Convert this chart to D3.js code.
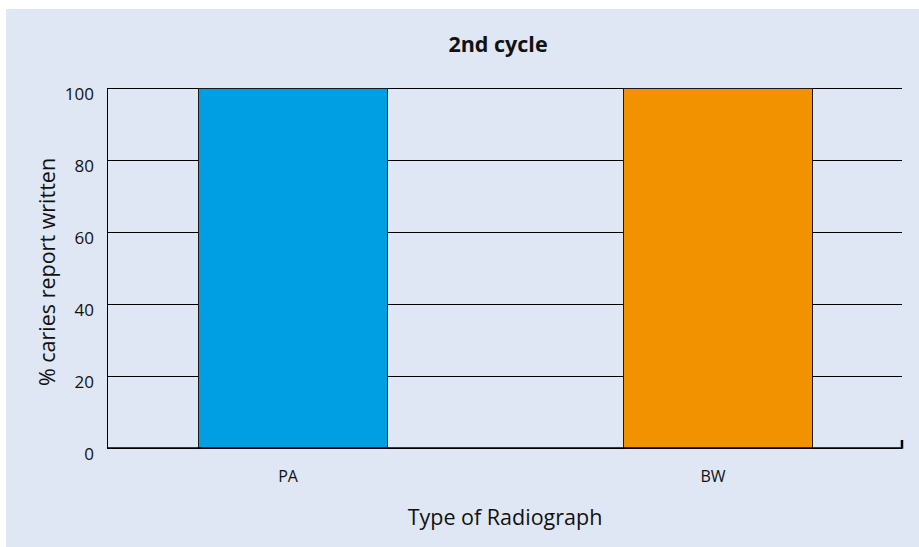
<!DOCTYPE html>
<html><head><meta charset="utf-8">
<script src="https://cdn.jsdelivr.net/npm/d3@7"></script>
<style>body{margin:0;background:#fff;} text{font-family:"Open Sans",sans-serif;fill:#111;}</style>
</head><body>
<svg id="c" width="919" height="547"></svg>
<script>
const categories = ["PA", "BW"];
const values = [100, 100];
const colors = ["#009fe3", "#f39200"];
const yTicks = [0, 20, 40, 60, 80, 100];
const title = "2nd cycle";
const xTitle = "Type of Radiograph";
const yTitle = "% caries report written";

const svg = d3.select("#c");
svg.append("rect").attr("x", 6).attr("y", 9).attr("width", 913).attr("height", 538).attr("fill", "#dfe7f5");

const plotL = 107, plotR = 902, plotT = 88, plotB = 448;
const y = d3.scaleLinear().domain([0, 100]).range([plotB, plotT]);
const x = d3.scaleBand().domain(categories).range([80.5, 930.5]).paddingInner(0.553).paddingOuter(0.2765);

// gridlines
svg.append("g").selectAll("line").data(yTicks).join("line")
  .attr("x1", plotL).attr("x2", plotR)
  .attr("y1", d => y(d)).attr("y2", d => y(d))
  .attr("stroke", "#000").attr("stroke-width", 1).attr("shape-rendering", "crispEdges");

// bars
svg.append("g").selectAll("rect").data(categories).join("rect")
  .attr("x", d => x(d)).attr("width", x.bandwidth())
  .attr("y", (d, i) => y(values[i])).attr("height", (d, i) => plotB - y(values[i]))
  .attr("fill", (d, i) => colors[i]).attr("stroke", "#1a1a1a").attr("stroke-width", 1)
  .attr("shape-rendering", "crispEdges");

// y axis
const yAxis = d3.axisLeft(y).tickValues(yTicks).tickSize(0).tickPadding(13);
const gy = svg.append("g").attr("transform", `translate(${plotL},0)`).call(yAxis);
gy.select(".domain").attr("stroke", "#000").attr("shape-rendering", "crispEdges");
gy.selectAll("text").attr("font-size", 17).attr("font-family", "Open Sans").attr("fill", "#111").attr("y", 6);

// x axis
const xAxis = d3.axisBottom(x).tickSize(0).tickPadding(22.5);
const gx = svg.append("g").attr("transform", `translate(0,${plotB})`).call(xAxis);
gx.select(".domain").remove();
gx.selectAll("text").attr("font-size", 16).attr("font-family", "Open Sans").attr("fill", "#111")
  .attr("dx", -5);
svg.append("line").attr("x1", plotL).attr("x2", plotR).attr("y1", plotB).attr("y2", plotB)
  .attr("stroke", "#000").attr("stroke-width", 1.5);
svg.append("line").attr("x1", plotR).attr("x2", plotR).attr("y1", plotB - 8).attr("y2", plotB + 0.75)
  .attr("stroke", "#000").attr("stroke-width", 2.5);

// titles
svg.append("text").attr("x", 498).attr("y", 52).attr("text-anchor", "middle")
  .attr("font-size", 21.5).attr("font-weight", "bold").text(title);
svg.append("text").attr("x", 505).attr("y", 525).attr("text-anchor", "middle")
  .attr("font-size", 21.5).text(xTitle);
svg.append("text").attr("transform", "translate(55,272) rotate(-90)").attr("text-anchor", "middle")
  .attr("font-size", 21.5).text(yTitle);
</script>
</body></html>
